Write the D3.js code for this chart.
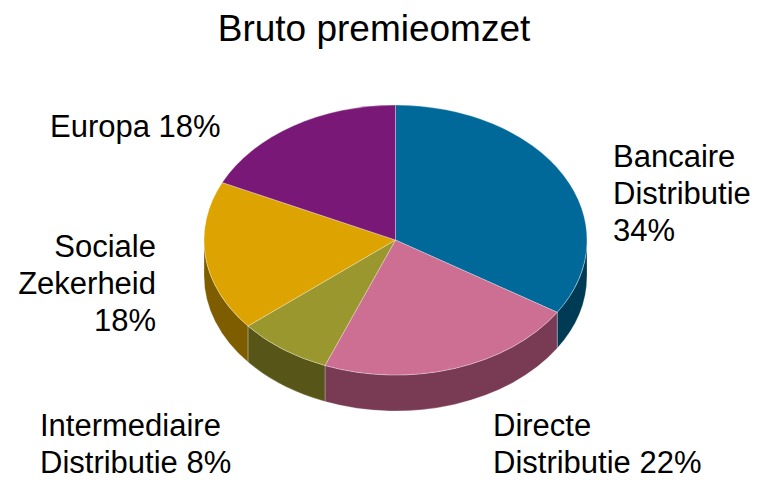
<!DOCTYPE html>
<html>
<head>
<meta charset="utf-8">
<script src="https://cdn.jsdelivr.net/npm/d3@7"></script>
<style>
  html, body { margin: 0; padding: 0; background: #fff; }
  svg { display: block; }
  text { font-family: "Liberation Sans", Arial, sans-serif; fill: #000; }
</style>
</head>
<body>
<svg id="chart" width="758" height="480"></svg>
<script>
const title = "Bruto premieomzet";
const categories = ["Bancaire Distributie", "Directe Distributie", "Intermediaire Distributie", "Sociale Zekerheid", "Europa"];
const values = [34, 22, 8, 18, 18];
const labelLines = [
  ["Bancaire", "Distributie", "34%"],
  ["Directe", "Distributie 22%"],
  ["Intermediaire", "Distributie 8%"],
  ["Sociale", "Zekerheid", "18%"],
  ["Europa 18%"]
];
const topColors  = ["#00699A", "#CD6E93", "#9A972F", "#DDA300", "#7A1877"];
const sideColors = ["#003B56", "#783B53", "#575518", "#7E5C00", "#4A0E48"];

const svg = d3.select("#chart");
const cx = 395.5, cy = 240, rx = 191.5, ry = 135, depth = 36;
const k = ry / rx;

// Title
svg.append("text")
  .attr("x", 374).attr("y", 41)
  .attr("text-anchor", "middle")
  .attr("font-size", 37)
  .text(title);

const data = categories.map((c, i) => ({ name: c, value: values[i], i }));
const pie = d3.pie().sort(null).value(d => d.value).startAngle(0).endAngle(2 * Math.PI);
const arcs = pie(data);

const g = svg.append("g").attr("transform", `translate(${cx},${cy}) scale(1,${k})`);
const dd = depth / k;

// Sides (front half: angles between PI/2 and 3PI/2)
arcs.forEach(a => {
  const s = Math.max(a.startAngle, Math.PI / 2);
  const e = Math.min(a.endAngle, 3 * Math.PI / 2);
  if (e <= s) return;
  const p = d3.path();
  p.moveTo(rx * Math.sin(s), -rx * Math.cos(s));
  p.arc(0, 0, rx, s - Math.PI / 2, e - Math.PI / 2, false);
  p.lineTo(rx * Math.sin(e), -rx * Math.cos(e) + dd);
  p.arc(0, dd, rx, e - Math.PI / 2, s - Math.PI / 2, true);
  p.closePath();
  g.append("path")
    .attr("d", p.toString())
    .attr("fill", sideColors[a.data.i])
    .attr("stroke", "rgba(255,255,255,0.45)")
    .attr("stroke-width", 0.6)
    .attr("vector-effect", "non-scaling-stroke");
});

// Tops
const arcGen = d3.arc().innerRadius(0).outerRadius(rx);
g.selectAll("path.top")
  .data(arcs)
  .join("path")
  .attr("class", "top")
  .attr("d", arcGen)
  .attr("fill", d => topColors[d.data.i])
  .attr("stroke", "rgba(255,255,255,0.5)")
  .attr("stroke-width", 0.6)
  .attr("vector-effect", "non-scaling-stroke");

// Labels
const labelPos = [
  { x: 613, y: 167, anchor: "start" },
  { x: 493, y: 436, anchor: "start" },
  { x: 40,  y: 436, anchor: "start" },
  { x: 156, y: 257, anchor: "end" },
  { x: 50,  y: 137, anchor: "start" }
];
const lineH = 37;
labelLines.forEach((lines, i) => {
  const t = svg.append("text")
    .attr("font-size", 31)
    .attr("text-anchor", labelPos[i].anchor);
  lines.forEach((ln, j) => {
    t.append("tspan")
      .attr("x", labelPos[i].x)
      .attr("y", labelPos[i].y + j * lineH)
      .text(ln);
  });
});
</script>
</body>
</html>
